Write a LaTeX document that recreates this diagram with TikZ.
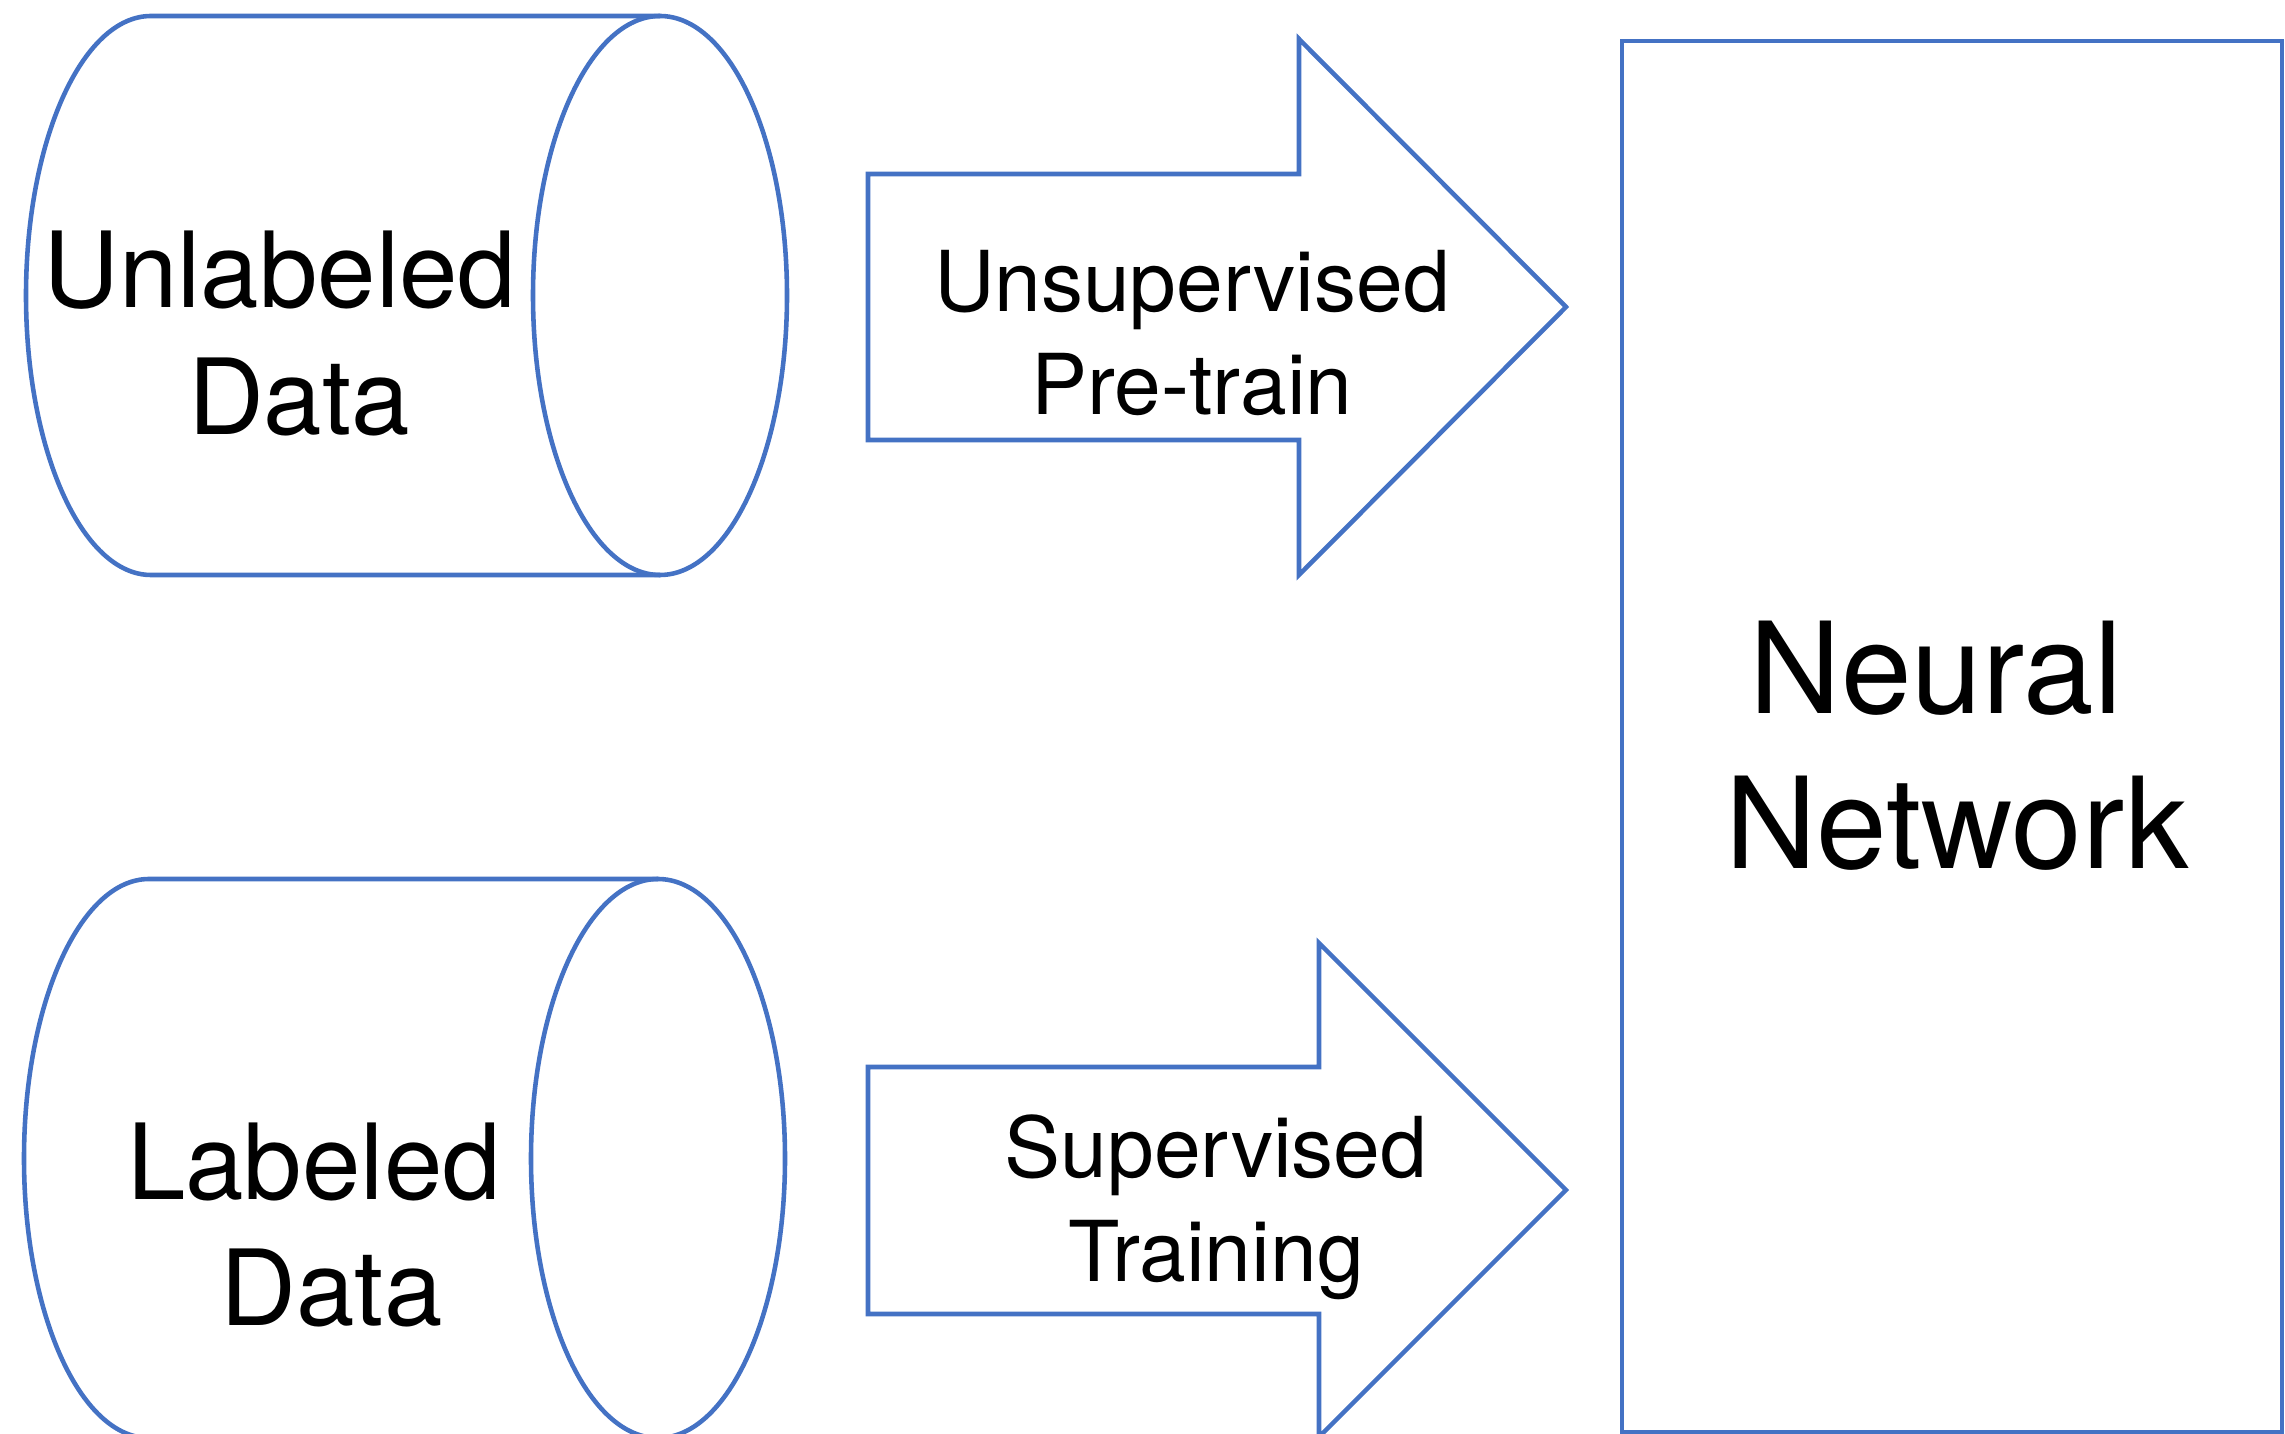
\documentclass[tikz,border=0pt]{standalone}
\usepackage{fontspec}
\setmainfont{TeX Gyre Heros}
\definecolor{outline}{RGB}{68, 114, 196}
\usetikzlibrary{positioning}
\tikzset{
    shapeline/.style={draw=outline, line width=1.3pt, line join=miter},
    datatext/.style={font=\fontsize{29.9}{36.1}\selectfont, align=center, inner sep=0pt},
    steptext/.style={font=\fontsize{23.9}{29.5}\selectfont, align=center, inner sep=0pt},
    nettext/.style={font=\fontsize{36.1}{44}\selectfont, align=center, inner sep=0pt}
}
\begin{document}
\begin{tikzpicture}
    \useasboundingbox (0,0) rectangle (22.85,14.34);

    % Data cylinders
    \draw[shapeline] (6.60,14.18) -- (1.51,14.18)
        arc[start angle=90, end angle=270, x radius=1.25, y radius=2.795] -- (6.60,8.59);
    \draw[shapeline] (6.60,11.385) ellipse [x radius=1.27, y radius=2.795];
    \node[datatext] (unlab) at (2.80,11.005) {Unlabeled\\\hspace*{0.38cm}Data};

    \draw[shapeline] (6.58,5.55) -- (1.49,5.55)
        arc[start angle=90, end angle=270, x radius=1.25, y radius=2.795] -- (6.58,-0.04);
    \draw[shapeline] (6.58,2.755) ellipse [x radius=1.27, y radius=2.795];
    \node[datatext] (lab) at (3.14,2.09) {Labeled\\\hspace*{0.35cm}Data};

    % Block arrows
    \draw[shapeline] (8.68,12.60) -- (12.99,12.60) -- (12.99,13.95) -- (15.66,11.27)
        -- (12.99,8.59) -- (12.99,9.94) -- (8.68,9.94) -- cycle;
    \node[steptext] (pretrain) at (11.92,11.01) {Unsupervised\\Pre-train};

    \draw[shapeline] (8.68,3.67) -- (13.19,3.67) -- (13.19,4.91) -- (15.66,2.44)
        -- (13.19,-0.03) -- (13.19,1.20) -- (8.68,1.20) -- cycle;
    \node[steptext] (suptrain) at (12.16,2.27) {Supervised\\Training};

    % Network
    \draw[shapeline] (16.22,0.02) rectangle (22.82,13.93);
    \node[nettext] (nn) at (19.57,6.88) {Neural\hspace*{0.42cm}\\Network};

\end{tikzpicture}
\end{document}
